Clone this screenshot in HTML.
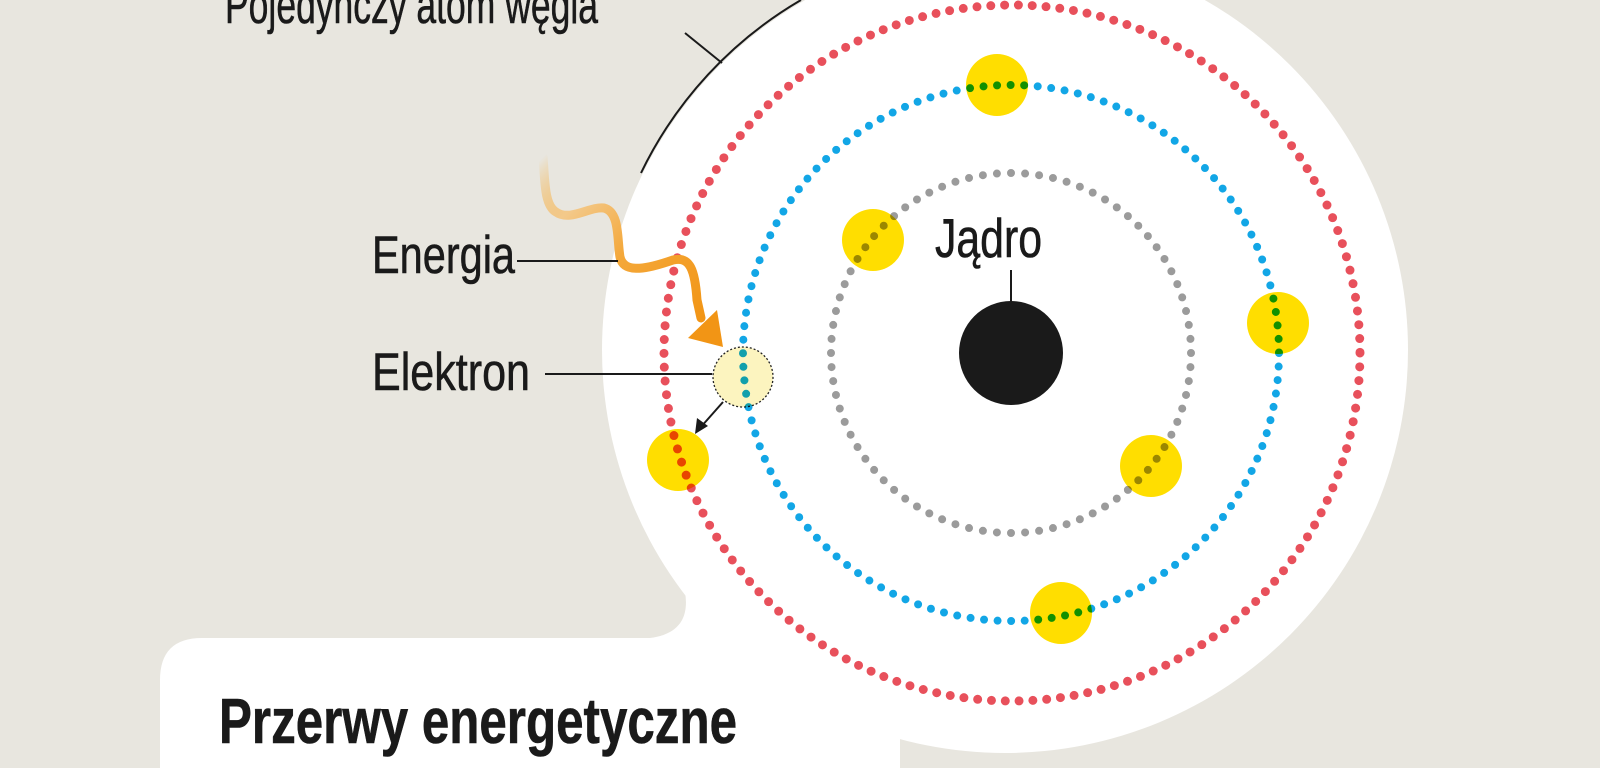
<!DOCTYPE html>
<html><head><meta charset="utf-8"><style>
html,body{margin:0;padding:0;background:#e8e6df;width:1600px;height:768px;overflow:hidden;}
svg{display:block;}
text{font-family:"Liberation Sans Narrow","Liberation Sans",sans-serif;fill:#1a1a1a;stroke:#1a1a1a;stroke-width:0.6;}
</style></head><body>
<svg width="1600" height="768" viewBox="0 0 1600 768" xmlns="http://www.w3.org/2000/svg">
<defs>
<linearGradient id="og" gradientUnits="userSpaceOnUse" x1="540" y1="160" x2="700" y2="320">
<stop offset="0" stop-color="#f6a21c" stop-opacity="0"/>
<stop offset="0.25" stop-color="#f3c98a"/>
<stop offset="0.55" stop-color="#f4a83a"/>
<stop offset="1" stop-color="#f29515"/>
</linearGradient>
</defs>
<rect width="1600" height="768" fill="#e8e6df"/>
<circle cx="1005" cy="350" r="403" fill="#fff"/>
<path d="M613,440 C630,500 660,525 675,560 C690,595 696,632 650,638 L640,700 L950,700 L950,440 Z" fill="#fff"/>
<path d="M160,768 L160,680 Q160,638 202,638 L858,638 Q900,638 900,680 L900,768 Z" fill="#fff"/>
<path d="M801,0 A403 403 0 0 0 641,173" fill="none" stroke="#1a1a1a" stroke-width="2"/>
<line x1="685" y1="33" x2="722" y2="63" stroke="#1a1a1a" stroke-width="2"/>
<circle cx="1011" cy="353" r="52" fill="#1a1a1a"/>
<line x1="1011" y1="270" x2="1011" y2="302" stroke="#1a1a1a" stroke-width="2"/>
<g fill="#ffde00">
<circle cx="997" cy="85" r="31"/>
<circle cx="873" cy="240" r="31"/>
<circle cx="1151" cy="466" r="31"/>
<circle cx="1278" cy="323" r="31"/>
<circle cx="1061" cy="613" r="31"/>
<circle cx="678" cy="460" r="31"/>
</g>
<circle cx="743" cy="377" r="30" fill="#fcf4bf" stroke="#222" stroke-width="1.3" stroke-dasharray="2 2"/>
<g fill="none" stroke-linecap="round" style="mix-blend-mode:multiply">
<circle cx="1011" cy="353" r="180" stroke="#9b9b9b" stroke-width="8" pathLength="80" stroke-dasharray="0 1"/>
<circle cx="1011" cy="353" r="268" stroke="#12a6e6" stroke-width="8" pathLength="124" stroke-dasharray="0 1"/>
<circle cx="1012" cy="353" r="348" stroke="#e8505b" stroke-width="9" pathLength="158" stroke-dasharray="0 1"/>
</g>
<path d="M543,157 C545,180 544,205 556,212 C570,222 590,206 604,208 C620,212 617,240 620,257 C624,275 650,268 673,260 C690,256 695,270 697,300 L701,318" fill="none" stroke="url(#og)" stroke-width="9" stroke-linecap="round"/>
<polygon points="723,347 688,338 717,310" fill="#f29515"/>
<line x1="723" y1="402" x2="700" y2="428" stroke="#1a1a1a" stroke-width="2"/>
<polygon points="695,434 697,418 708,426" fill="#1a1a1a"/>
<line x1="517" y1="261" x2="618" y2="261" stroke="#1a1a1a" stroke-width="2"/>
<line x1="545" y1="374" x2="712" y2="374" stroke="#1a1a1a" stroke-width="2"/>
<text x="225" y="23" font-size="52" textLength="373" lengthAdjust="spacingAndGlyphs">Pojedynczy atom węgla</text>
<text x="372" y="273" font-size="53" textLength="143" lengthAdjust="spacingAndGlyphs">Energia</text>
<text x="372" y="390" font-size="53" textLength="158" lengthAdjust="spacingAndGlyphs">Elektron</text>
<text x="935" y="257" font-size="55" textLength="107" lengthAdjust="spacingAndGlyphs">Jądro</text>
<text x="219" y="743" font-size="64" font-weight="bold" textLength="518" lengthAdjust="spacingAndGlyphs">Przerwy energetyczne</text>
</svg>
</body></html>
